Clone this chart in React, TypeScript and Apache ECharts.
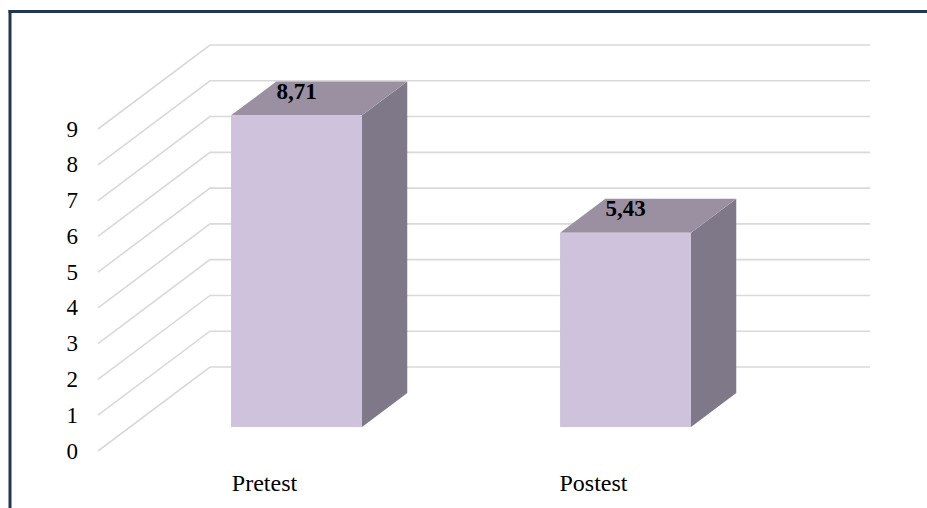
import { useEffect, useRef } from "react";
import * as echarts from "echarts";

// ---- data ----
const categories: string[] = ["Pretest", "Postest"];
const scores: number[] = [8.71, 5.43];
const yTicks: number[] = [0, 1, 2, 3, 4, 5, 6, 7, 8, 9];

// ---- 3D oblique projection settings ----
const DX = 112; // depth offset x (floor front -> back wall)
const DY = -84; // depth offset y
const BAR_FRONT = 0.286; // depth fraction of bar front face
const BAR_BACK = 0.69; // depth fraction of bar back face
const BAR_RATIO = 0.398; // bar width / category band

const FONT = "'Liberation Serif', 'Times New Roman', serif";

export default function App() {
  const ref = useRef<HTMLDivElement>(null);

  useEffect(() => {
    const chart = echarts.init(ref.current as HTMLDivElement, null, { renderer: "svg" });

    const option: any = {
      animation: false,
      backgroundColor: "#ffffff",
      grid: { left: 100, right: 169, top: 129, bottom: 57, containLabel: false },
      xAxis: {
        type: "category",
        data: categories,
        axisLine: { show: false },
        axisTick: { show: false },
        splitLine: { show: false },
        axisLabel: { fontFamily: FONT, fontSize: 24, color: "#000000", margin: 20 },
      },
      yAxis: {
        type: "value",
        min: 0,
        max: 9,
        interval: 1,
        axisLine: { show: false },
        axisTick: { show: false },
        splitLine: { show: false },
        axisLabel: { fontFamily: FONT, fontSize: 23, color: "#000000", margin: 22 },
      },
      graphic: [
        {
          type: "line",
          shape: { x1: 8.5, y1: 11.5, x2: 927, y2: 11.5 },
          style: { stroke: "#1F3654", lineWidth: 3 },
          z: 100,
        },
        {
          type: "line",
          shape: { x1: 10, y1: 10, x2: 10, y2: 508 },
          style: { stroke: "#1F3654", lineWidth: 3 },
          z: 100,
        },
      ],
      series: [
        {
          type: "custom",
          name: "walls",
          silent: true,
          z: 1,
          data: yTicks.map((t) => [0, t]),
          renderItem: (params: any, api: any) => {
            const v = api.value(1);
            const p = api.coord([0, v]);
            const cs = params.coordSys;
            const x0 = cs.x - 2;
            const y = p[1];
            return {
              type: "polyline",
              shape: {
                points: [
                  [x0, y],
                  [x0 + DX, y + DY],
                  [cs.x + cs.width + DX, y + DY],
                ],
              },
              style: { stroke: "#D9D9D9", lineWidth: 1.6, fill: null },
            };
          },
        },
        {
          type: "custom",
          name: "Score",
          z: 2,
          data: scores.map((v, i) => [i, v]),
          renderItem: (params: any, api: any) => {
            const i = api.value(0);
            const v = api.value(1);
            const base = api.coord([i, 0]);
            const top = api.coord([i, v]);
            const band = api.size([1, 0])[0];
            const w = band * BAR_RATIO;
            const fx = base[0] + BAR_FRONT * DX;
            const x1 = fx - w / 2;
            const x2 = fx + w / 2;
            const yb = base[1] + BAR_FRONT * DY;
            const yt = top[1] + BAR_FRONT * DY;
            const ddx = (BAR_BACK - BAR_FRONT) * DX;
            const ddy = (BAR_BACK - BAR_FRONT) * DY;
            const label = v.toFixed(2).replace(".", ",");
            return {
              type: "group",
              children: [
                {
                  type: "polygon",
                  shape: { points: [[x2, yt], [x2 + ddx, yt + ddy], [x2 + ddx, yb + ddy], [x2, yb]] },
                  style: { fill: "#7E7889" },
                },
                {
                  type: "polygon",
                  shape: { points: [[x1, yt], [x2, yt], [x2 + ddx, yt + ddy], [x1 + ddx, yt + ddy]] },
                  style: { fill: "#9B90A2" },
                },
                {
                  type: "polygon",
                  shape: { points: [[x1, yt], [x2, yt], [x2, yb], [x1, yb]] },
                  style: { fill: "#CEC2DC" },
                },
                {
                  type: "text",
                  x: fx,
                  y: yt - 24,
                  style: {
                    text: label,
                    fontFamily: FONT,
                    fontSize: 23,
                    fontWeight: "bold",
                    fill: "#000000",
                    align: "center",
                    verticalAlign: "middle",
                  },
                },
              ],
            };
          },
        },
      ],
    };

    chart.setOption(option);
    return () => {
      chart.dispose();
    };
  }, []);

  return (
    <div
      ref={ref}
      style={{ position: "fixed", left: 0, top: 0, width: 927, height: 508, background: "#ffffff" }}
    />
  );
}
